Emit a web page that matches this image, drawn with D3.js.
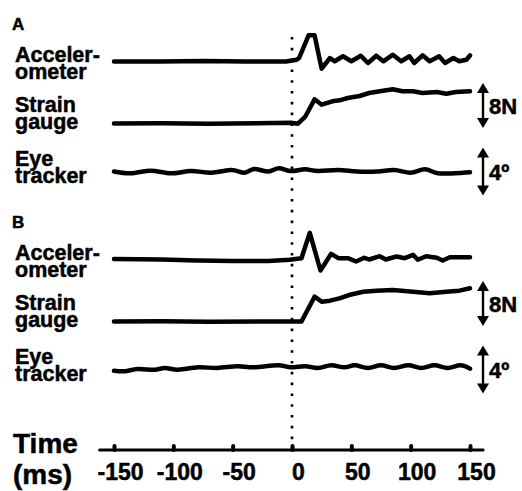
<!DOCTYPE html>
<html>
<head>
<meta charset="utf-8">
<script src="https://cdn.jsdelivr.net/npm/d3@7/dist/d3.min.js"></script>
<style>
  body { margin: 0; background: #fff; }
  text { font-family: "Liberation Sans", Arial, sans-serif; font-weight: bold; fill: #000; stroke: #000; stroke-width: 0.5px; }
</style>
</head>
<body>
<div id="chart"></div>
<script>
const width = 522;
const height = 491;

// time ticks (ms)
const timeTicks = [-150, -100, -50, 0, 50, 100, 150];

// panel A traces: time (ms) and value
const accelA_t = [-150, -110, -75, -40, -5, 4, 6, 14, 19, 25, 32, 36, 43, 50, 58, 64, 71, 77, 85, 92, 99, 103, 110, 116, 124, 129, 136, 141, 147, 150];
const accelA_v = [0, 0, 0.05, 0, 0, 0.18, 0.35, 2.62, 2.62, -0.72, 0.35, 0.02, 0.52, 0.02, 0.58, -0.15, 0.58, 0.02, 0.68, 0.02, 0.52, -0.15, 0.62, 0.02, 0.52, -0.15, 0.35, 0.02, 0.18, 0.6];
const strainA_t = [-150, -110, -70, -30, -1, 5, 11, 19, 25, 34, 40, 47, 57, 65, 74, 85, 93, 102, 110, 122, 130, 138, 150];
const strainA_v = [0, 0.05, -0.05, 0.05, 0.14, -0.04, 1.16, 4.3, 3.34, 3.95, 4.12, 4.53, 4.89, 5.42, 5.72, 6.08, 5.72, 5.72, 5.42, 5.6, 5.3, 5.6, 5.72];
const eyeA_t = [-150, -136, -119, -102, -85, -68, -51, -40, -32, -20, -11, -1, 11, 22, 39, 55, 72, 86, 100, 112, 123, 137, 150];
const eyeA_v = [0, -0.15, 0.07, -0.15, 0.04, -0.1, 0.12, -0.1, 0.21, 0, 0.27, 0.04, 0.18, 0.04, 0.12, 0, 0, 0.12, -0.1, 0.18, -0.15, -0.15, -0.07];

// panel B traces
const accelB_t = [-150, -110, -80, -50, -20, -2, 8, 15, 24, 33, 39, 47, 54, 61, 65, 74, 79, 88, 95, 102, 106, 113, 122, 127, 133, 141, 150];
const accelB_v = [0.05, 0, -0.1, -0.15, -0.15, -0.03, 0.13, 2.67, -1.1, 0.57, 0.13, 0.13, -0.2, 0.17, 0, 0.33, 0, 0.3, 0.13, 0.47, -0.03, 0.33, 0.17, -0.1, 0.23, 0.23, 0.23];
const strainB_t = [-150, -110, -70, -30, 8, 19, 25, 32, 40, 48, 60, 71, 85, 102, 116, 130, 141, 150];
const strainB_v = [0, 0.05, -0.05, 0, 0, 4.41, 3.52, 3.7, 4.12, 4.71, 5.3, 5.48, 5.6, 5.3, 5.01, 5.3, 5.48, 5.9];
const eyeB_t = [-150, -141, -130, -116, -107, -96, -79, -63, -46, -32, -12, -1, 11, 22, 33, 44, 53, 64, 75, 86, 98, 109, 120, 131, 142, 150];
const eyeB_v = [-0.1, -0.15, 0.04, -0.02, 0.13, -0.02, 0.18, 0.13, 0.27, 0.18, 0.35, 0.18, 0.27, 0.13, 0.35, 0.18, 0.35, 0.13, 0.35, 0.13, 0.35, 0.13, 0.35, 0.13, 0.35, 0.07];

// scale bars
const forceBar = [-0.8, 7.2];   // N, 8 N
const eyeBar = [-2, 2];         // deg, 4 deg

const svg = d3.select("#chart").append("svg")
  .attr("width", width).attr("height", height);

const x = d3.scaleLinear().domain([-150, 150]).range([114, 470]);

// pixels per unit
const accelPx = 10, strainPx = 5.625, eyePx = 12;

const panels = [
  { label: "A", top: 0, accel: [accelA_t, accelA_v], strain: [strainA_t, strainA_v], eye: [eyeA_t, eyeA_v] },
  { label: "B", top: 198, accel: [accelB_t, accelB_v], strain: [strainB_t, strainB_v], eye: [eyeB_t, eyeB_v] }
];

function trace(g, series, base, px, curve) {
  var y = d3.scaleLinear().domain([0, 1]).range([base, base - px]);
  var pts = series[0].map(function(t, i) { return [t, series[1][i]]; });
  g.append("path")
    .attr("d", d3.line().curve(curve).x(function(d){ return x(d[0]); }).y(function(d){ return y(d[1]); })(pts))
    .attr("fill", "none").attr("stroke", "#000")
    .attr("stroke-width", 4.5).attr("stroke-linejoin", "round").attr("stroke-linecap", "round");
  return y;
}

function arrow(g, y, range, label) {
  var ax = 483, y0 = y(range[1]), y1 = y(range[0]);
  g.append("line").attr("x1", ax).attr("x2", ax).attr("y1", y0 + 6).attr("y2", y1 - 6)
    .attr("stroke", "#000").attr("stroke-width", 2.4);
  g.append("path").attr("d", "M" + ax + "," + y0 + "l-6,10h12z");
  g.append("path").attr("d", "M" + ax + "," + y1 + "l-6,-10h12z");
  g.append("text").attr("x", 489).attr("y", (y0 + y1) / 2 + 8)
    .attr("font-size", 22).text(label);
}

function twoLines(g, a, b, ya) {
  g.append("text").attr("x", 15).attr("y", ya).attr("font-size", 21.5).text(a);
  g.append("text").attr("x", 15).attr("y", ya + 17).attr("font-size", 21.5).text(b);
}

panels.forEach(function(p) {
  var g = svg.append("g").attr("transform", "translate(0," + p.top + ")");
  g.append("text").attr("x", 12).attr("y", 30).attr("font-size", 17).text(p.label);

  twoLines(g, "Acceler-", "ometer", 62);
  twoLines(g, "Strain", "gauge", 112);
  twoLines(g, "Eye", "tracker", 166);

  trace(g, p.accel, 61.5, accelPx, d3.curveLinear);
  var ys = trace(g, p.strain, 123.5, strainPx, d3.curveLinear);
  var ye = trace(g, p.eye, 171.5, eyePx, d3.curveCardinal);

  arrow(g, ys, forceBar, "8N");
  arrow(g, ye, eyeBar, "4º");
});

// stimulus onset
svg.append("line")
  .attr("x1", x(0)).attr("x2", x(0)).attr("y1", 37).attr("y2", 446)
  .attr("stroke", "#000").attr("stroke-width", 2.6).attr("stroke-dasharray", "2.6 8.2");

// time axis
const axisY = 450;
const axis = d3.axisBottom(x).tickValues(timeTicks)
  .tickFormat(function(d){ return String(d); })
  .tickSizeInner(-4).tickSizeOuter(0).tickPadding(10);
const ag = svg.append("g").attr("transform", "translate(0," + axisY + ")").call(axis);
ag.select(".domain").remove();
ag.append("line").attr("x1", x(-162)).attr("x2", x(161)).attr("y1", 0).attr("y2", 0)
  .attr("stroke", "#000").attr("stroke-width", 3.2).attr("stroke-linecap", "round");
ag.selectAll(".tick line").attr("stroke", "#000").attr("stroke-width", 4).attr("stroke-linecap", "round");
ag.selectAll(".tick text")
  .attr("font-size", 23).attr("font-family", "Liberation Sans, Arial, sans-serif").attr("font-weight", "bold")
  .attr("fill", "#000").attr("dy", null).attr("y", 30).attr("dx", 6);

svg.append("text").attr("x", 13).attr("y", 453).attr("font-size", 28).text("Time");
svg.append("text").attr("x", 13).attr("y", 484).attr("font-size", 28).text("(ms)");
</script>
</body>
</html>
